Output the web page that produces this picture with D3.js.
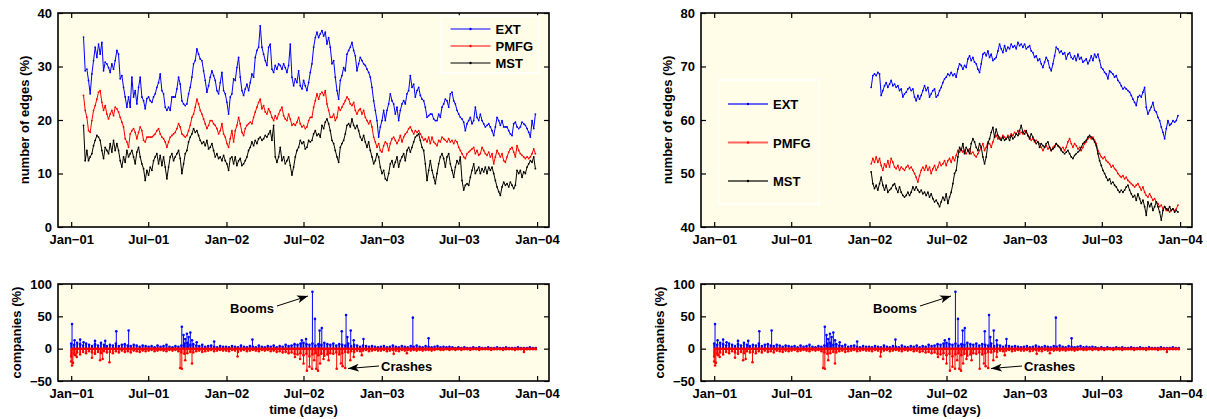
<!DOCTYPE html>
<html>
<head>
<meta charset="utf-8">
<script src="https://cdn.jsdelivr.net/npm/d3@7"></script>
<style>
  body { margin: 0; background: #ffffff; }
  text { font-family: "Liberation Sans", Arial, sans-serif; font-weight: bold; }
</style>
</head>
<body>
<script>
// ---- data ----
const tickDates = ["2001-01-01", "2001-07-01", "2002-01-01", "2002-07-01", "2003-01-01", "2003-07-01", "2004-01-01"];
const tickLabels = ["Jan\u221201", "Jul\u221201", "Jan\u221202", "Jul\u221202", "Jan\u221203", "Jul\u221203", "Jan\u221204"];
const seriesNames = ["EXT", "PMFG", "MST"];

// left top panel: samples evenly spread between these dates
const leftRange = ["2001-01-30", "2003-12-28"];
const extLeft = [35.5,29.2,29.5,27.4,24.9,28.6,31.1,33.6,31.7,34.2,
  32.3,34.5,29.2,30.8,30.5,29.8,28.9,30.5,29.5,31.1,
  33.0,32.3,27.7,28.3,26.1,24.3,22.4,24.3,22.4,28.0,
  24.3,25.5,23.0,26.1,28.0,24.3,23.6,22.1,24.0,24.3,
  23.6,23.3,24.3,24.9,26.1,27.0,28.6,25.5,24.9,22.4,
  21.8,22.4,21.8,24.3,24.3,24.3,25.8,28.0,26.7,23.6,
  23.0,22.7,23.0,24.9,26.1,28.0,30.5,31.1,33.3,32.3,
  31.4,31.1,29.2,27.4,25.2,26.4,28.0,29.2,28.3,27.4,
  25.5,24.9,27.0,28.9,25.5,24.9,23.3,21.1,24.3,24.9,
  27.7,27.4,29.8,31.7,28.0,25.5,24.6,25.8,26.7,25.5,
  27.0,28.6,28.0,31.7,33.0,33.6,37.6,33.6,32.3,31.1,
  30.2,33.6,34.2,29.5,28.9,30.2,29.5,30.5,30.2,29.5,
  30.5,29.8,28.9,30.2,34.2,28.0,26.4,27.7,27.0,29.2,
  26.4,25.8,27.4,26.4,25.5,27.0,28.9,
  30.5,33.6,35.4,36.4,35.4,36.1,36.7,35.7,36.4,34.2,
  35.4,33.6,30.5,31.1,28.0,25.5,23.9,27.4,28.3,29.8,
  29.2,32.3,33.0,33.6,34.5,33.0,32.0,29.2,30.5,31.7,
  31.1,30.5,30.2,29.5,28.9,28.0,26.1,23.6,21.8,19.9,
  16.8,18.7,19.9,21.8,19.9,21.8,23.0,24.9,23.6,23.0,
  21.1,22.4,19.9,21.8,23.0,23.6,23.0,24.9,25.5,28.3,
  26.1,26.7,24.3,25.5,26.1,24.6,23.9,23.6,22.4,20.5,
  20.8,21.1,21.1,20.2,19.9,19.9,21.1,20.5,22.4,23.0,
  23.9,23.6,22.4,24.9,25.2,23.6,23.0,21.8,21.1,20.5,
  20.2,19.6,18.0,19.3,19.9,20.5,19.3,19.9,22.4,20.5,
  19.9,21.1,19.9,19.3,18.7,19.0,19.3,18.7,18.0,17.1,
  18.7,20.5,19.9,19.0,19.9,18.7,18.7,18.7,18.0,17.4,
  17.1,19.3,19.6,18.7,18.4,18.7,19.6,19.3,19.0,18.4,
  17.7,16.8,19.9,18.4,21.1];
const pmfgLeft = [24.6,21.8,20.5,18.0,17.7,19.9,21.8,22.7,23.9,25.2,
  25.5,23.3,21.8,22.7,21.1,20.2,21.1,21.8,20.8,22.4,
  22.1,21.5,20.5,19.6,18.7,16.5,15.9,14.9,17.4,18.0,
  18.4,17.7,16.5,17.7,18.7,18.0,16.2,15.9,16.8,16.8,
  16.8,16.8,17.1,17.4,18.0,18.4,17.4,16.8,16.5,15.9,
  14.9,15.9,16.8,17.1,17.4,17.7,18.4,19.3,18.7,17.4,
  17.1,16.8,17.1,18.0,19.0,20.5,21.1,22.4,23.9,23.0,
  21.8,21.1,20.2,19.3,18.4,19.0,19.9,19.9,19.3,19.0,
  18.4,17.4,18.0,19.3,17.4,16.8,15.6,14.9,16.5,18.0,
  15.9,18.0,19.0,20.5,19.3,17.7,17.1,18.4,19.0,19.3,
  19.6,19.3,20.5,21.5,22.4,23.3,23.9,22.1,22.7,21.5,
  21.1,22.1,21.5,20.5,19.9,20.8,20.2,21.1,21.8,22.4,
  20.8,20.2,19.9,21.1,20.2,19.0,19.3,19.0,19.6,20.5,
  19.3,18.7,19.0,18.4,18.7,19.9,20.5,
  20.5,22.4,23.6,24.9,23.9,24.9,25.2,24.6,25.5,23.0,
  21.8,20.5,20.5,21.1,19.9,20.5,22.4,21.8,22.4,23.0,
  23.6,24.3,23.9,23.0,22.7,23.3,21.8,21.1,21.8,22.1,
  21.1,21.8,20.5,19.9,19.3,19.9,18.7,16.8,15.9,14.9,
  15.6,14.3,14.0,15.2,15.9,15.6,14.3,15.6,16.5,16.8,
  16.2,15.6,16.2,17.1,15.9,16.8,17.4,17.7,18.4,18.7,
  18.0,17.4,18.0,17.7,18.0,17.4,16.8,16.2,16.5,15.9,
  16.8,15.6,16.8,15.9,15.6,15.2,16.2,15.9,16.8,16.5,
  16.2,15.9,16.5,15.9,16.2,15.6,16.2,15.9,14.9,14.3,
  13.7,13.1,12.8,13.7,14.0,14.3,14.6,14.9,13.7,14.3,
  13.4,13.7,14.9,14.3,13.7,13.4,14.0,13.1,13.7,11.8,
  13.1,14.3,13.7,13.1,13.7,12.4,12.1,13.1,14.0,14.6,
  14.9,14.0,13.1,15.2,14.3,13.7,13.4,13.1,12.8,13.1,
  12.8,13.1,13.7,14.6,13.7];
const mstLeft = [19.0,12.4,14.3,12.4,13.1,13.7,15.2,16.2,17.1,16.8,
  16.2,14.3,12.8,14.9,14.3,13.7,15.6,14.0,16.2,14.3,
  15.6,14.3,12.4,11.2,13.1,12.1,14.3,13.1,13.7,14.3,
  13.1,11.8,14.0,14.9,13.1,11.8,10.9,8.7,10.6,9.7,
  11.2,10.6,12.4,13.1,13.7,11.8,13.4,11.5,13.1,11.2,
  9.0,11.2,13.1,13.7,12.4,13.1,13.7,14.3,12.8,10.0,
  11.8,13.7,14.3,15.9,16.8,17.4,18.4,17.7,18.0,17.1,
  16.2,15.6,15.9,15.2,16.2,14.6,14.9,15.6,14.3,13.1,
  13.7,12.8,13.1,12.4,13.4,12.4,11.8,10.6,12.8,13.1,
  11.8,13.1,11.5,12.4,12.8,11.5,11.8,12.4,13.1,14.3,
  14.9,15.9,15.2,16.2,15.6,16.5,16.8,16.2,16.5,17.1,
  16.8,17.4,18.0,16.2,19.0,13.1,12.1,13.1,14.9,12.4,
  13.1,11.8,12.4,13.1,11.5,9.7,11.2,13.1,14.3,14.9,
  16.2,15.6,15.9,14.6,14.9,16.2,15.9,
  16.2,17.4,18.0,17.1,17.4,16.8,19.0,18.4,19.6,20.2,
  19.3,18.0,16.2,15.6,14.3,13.1,12.1,14.9,15.6,16.2,
  17.4,19.0,19.3,18.7,20.2,19.0,18.4,19.0,18.0,16.8,
  16.2,17.1,15.9,14.9,15.9,14.3,13.1,11.8,12.4,13.7,
  13.1,11.2,10.0,10.6,9.0,8.7,10.0,11.8,12.4,11.2,
  12.1,13.1,11.2,12.4,13.1,13.7,12.4,14.3,14.9,14.0,
  14.9,15.9,16.8,17.1,17.4,16.2,14.9,14.3,11.8,8.7,
  10.6,12.4,10.6,9.3,8.1,10.0,11.8,13.1,13.7,12.8,
  11.2,13.1,13.7,11.8,10.6,9.3,11.2,12.4,11.8,13.1,
  8.7,6.9,7.8,8.1,7.8,9.3,10.6,11.8,10.0,10.6,
  11.2,10.0,10.9,10.3,11.2,10.0,11.2,10.6,11.2,10.0,
  8.7,7.5,6.6,5.9,7.5,8.4,7.8,8.1,7.5,8.4,
  7.8,7.2,7.8,10.6,10.0,10.6,9.3,10.3,10.0,11.2,
  11.8,12.4,12.1,13.1,10.9];

// right top panel
const rightRange = ["2002-01-05", "2003-12-27"];
const extRight = [66.1,68.3,68.6,68.3,68.9,68.6,64.6,65.5,66.4,67.0,
  66.1,66.7,67.4,66.4,66.7,66.1,66.4,65.5,65.8,64.3,
  64.9,65.2,65.8,66.1,65.5,65.8,64.3,63.6,64.6,63.9,
  64.6,65.5,66.4,65.5,66.1,64.3,64.9,65.5,65.8,64.3,
  64.6,65.5,66.1,67.0,67.7,68.0,68.6,68.3,68.9,68.3,
  68.6,68.0,69.5,70.5,70.2,69.5,70.2,69.8,71.4,72.0,
  71.1,71.7,70.8,70.5,69.5,68.9,70.5,72.3,72.6,72.0,
  72.9,71.7,72.3,71.1,71.4,71.7,72.9,74.2,73.3,72.6,
  73.9,72.9,73.6,73.3,74.2,73.6,73.9,73.3,74.5,73.9,
  74.2,73.6,74.2,73.3,73.6,73.9,72.9,72.6,71.7,72.0,
  71.1,71.4,70.5,69.8,70.8,71.7,71.1,69.8,69.2,70.5,
  72.0,73.6,73.3,72.6,72.9,72.3,72.6,71.4,72.3,72.6,
  71.7,71.4,72.0,71.1,72.3,71.4,71.7,70.8,71.1,71.4,
  70.5,71.1,72.0,71.1,72.3,71.7,72.3,71.1,69.8,69.5,
  68.9,68.6,67.7,69.2,68.9,68.6,68.0,68.3,67.4,67.0,
  66.4,65.8,66.1,65.8,65.5,65.2,64.6,63.9,63.3,62.7,
  64.3,64.6,64.3,65.2,66.1,62.4,61.1,61.8,62.4,63.3,
  61.8,61.5,60.5,59.9,58.7,57.7,56.5,58.4,59.9,59.0,
  59.3,59.9,59.6,59.9,60.8];
const pmfgRight = [51.8,52.8,52.1,53.1,52.1,52.8,51.5,50.6,51.8,51.2,
  52.4,51.2,52.8,52.1,51.2,50.9,51.5,50.6,51.2,50.9,
  50.6,51.2,51.5,50.9,51.2,50.6,50.0,49.3,48.4,49.6,
  50.6,51.2,50.6,51.5,50.6,51.2,50.0,50.9,51.5,50.6,
  51.2,52.1,51.5,51.8,52.4,51.5,52.4,52.8,52.1,53.1,
  52.4,53.4,54.3,54.0,54.6,54.0,54.3,53.7,54.3,54.6,
  53.7,54.0,53.4,53.1,53.7,54.3,54.9,55.6,54.3,54.9,
  55.9,55.6,54.9,55.9,56.8,57.1,56.5,56.8,56.5,57.1,
  56.8,56.5,57.1,56.8,57.4,57.1,57.7,57.4,58.0,57.4,
  57.7,57.4,58.0,57.7,57.1,56.8,56.2,56.5,55.9,56.2,
  55.9,55.6,54.9,54.3,54.9,55.2,54.6,54.9,54.3,54.9,
  55.2,55.6,55.2,54.9,54.6,54.9,54.3,54.9,55.9,56.5,
  55.6,54.9,55.6,55.2,54.6,54.9,54.3,54.9,55.6,55.9,
  56.5,56.8,56.5,56.8,56.2,55.6,54.3,53.7,53.1,52.8,
  53.1,52.4,52.1,51.8,51.2,51.5,50.9,50.6,50.0,49.6,
  49.3,49.6,49.0,49.3,48.7,48.4,48.1,47.8,47.5,47.8,
  48.1,47.5,46.9,47.5,46.5,45.9,45.6,46.2,45.6,45.0,
  45.3,44.7,44.4,43.8,44.1,43.4,43.8,43.1,43.4,42.8,
  43.1,43.4,43.1,43.4,44.1];
const mstRight = [50.3,48.1,47.2,47.8,46.9,48.1,49.3,47.8,46.9,47.8,
  46.5,46.9,47.2,47.8,48.1,47.2,46.5,47.5,46.5,45.9,
  45.6,45.9,46.5,45.9,46.5,47.5,46.9,47.5,46.9,46.5,
  46.9,46.2,46.5,45.9,46.5,45.6,46.2,45.3,44.7,45.0,
  44.4,43.8,44.7,45.6,45.0,46.2,44.4,45.6,46.5,48.1,
  50.0,50.6,53.1,54.9,54.3,55.6,53.7,54.9,54.3,53.7,
  55.6,56.5,55.9,54.9,54.3,55.6,54.9,53.1,51.8,53.1,
  55.6,56.5,57.7,58.6,56.8,58.3,57.1,56.5,56.2,56.8,
  56.2,56.5,56.8,56.2,57.1,56.5,56.8,57.4,57.1,58.0,
  59.0,57.7,57.4,58.0,57.1,56.5,57.4,56.8,56.2,55.6,
  55.9,54.9,55.6,55.2,54.9,55.6,55.9,54.9,54.3,54.6,
  54.9,55.6,55.2,54.9,54.3,54.0,53.7,54.0,54.3,53.7,
  53.1,52.8,53.4,53.7,54.0,54.3,54.9,55.6,55.9,56.2,
  56.8,57.1,56.8,56.5,55.9,55.2,53.7,52.4,51.5,50.6,
  50.0,49.3,48.7,49.0,48.1,48.4,47.8,47.5,46.9,46.5,
  46.9,46.5,46.9,47.5,47.8,46.9,46.2,45.6,45.9,45.0,
  46.2,45.3,44.4,45.0,43.8,42.2,44.7,43.8,44.4,43.1,
  43.8,44.7,43.8,42.8,41.3,43.1,43.8,43.4,43.1,43.8,
  43.1,43.4,42.8,43.1,42.8];

// bottom panels: weekly level of booms / crashes from 2001-01-01, plus the big spikes
const baseStart = "2001-01-01";
const boomWeekly = [8,6,9,7,5,8,6,4,7,5,9,6,4, 6,5,8,4,6,7,5,4,6,5,3,5,4,
  3,4,2,5,3,4,6,3,2,4,3,5,8, 9,6,7,5,4,6,3,4,5,3,2,4,3,
  3,2,4,3,2,5,3,2,4,3,2,5,3, 2,4,3,5,2,4,3,6,4,5,7,6,8,
  9,7,6,8,5,7,6,9,7,6,8,5,7, 6,5,8,4,6,5,3,5,4,3,4,3,2,
  3,4,2,3,5,3,2,4,3,2,4,3,5, 3,2,4,3,2,3,4,2,3,2,3,2,1,
  2,1,2,1,1,2,1,2,1,1,2,1,1, 2,1,1,2,1,1,1,2,1,1,1,2,1,1];
const crashWeekly = [-12,-8,-6,-9,-5,-7,-4,-6,-8,-5,-7,-4,-6, -5,-7,-4,-6,-3,-5,-4,-6,-3,-4,-5,-3,-4,
  -3,-2,-4,-3,-2,-3,-4,-2,-3,-2,-4,-6,-8, -7,-5,-6,-4,-3,-5,-4,-3,-2,-4,-3,-2,-3,
  -3,-4,-2,-3,-5,-3,-2,-4,-3,-2,-3,-4,-2, -3,-2,-4,-3,-5,-4,-6,-5,-7,-6,-8,-9,-7,
  -10,-8,-12,-9,-7,-10,-8,-11,-9,-7,-8,-6,-9, -7,-5,-6,-4,-5,-3,-4,-3,-2,-4,-3,-2,-3,
  -3,-2,-4,-3,-2,-3,-4,-2,-3,-2,-3,-2,-3, -2,-3,-2,-2,-3,-2,-1,-2,-2,-1,-2,-1,-2,
  -1,-2,-1,-1,-2,-1,-1,-2,-1,-1,-1,-2,-1, -1,-1,-2,-1,-1,-1,-2,-1,-1,-5,-1,-1,-1,-1];
const boomDays = [2,8,21,29,56,80,106,135,260,264,268,272,276,280,284,295,336,426,542,552,567,573,584,589,636,646,649,657,664,687,803,840];
const boomValues = [38,13,14,10,12,12,27,28,34,21,15,23,18,25,13,10,11,14,13,15,88,46,28,32,27,52,18,28,13,15,48,16];
const crashDays = [0,2,4,9,13,49,68,74,90,256,260,268,284,391,526,538,546,554,560,566,571,576,580,585,593,605,624,634,638,644,656,664,683,758,789];
const crashValues = [-20,-26,-22,-10,-13,-14,-18,-16,-21,-30,-31,-18,-23,-12,-13,-16,-23,-34,-28,-31,-18,-31,-34,-23,-16,-18,-31,-23,-27,-30,-18,-13,-10,-8,-7];

// ---- layout ----
const bg = "#fffde8";
const blue = "#0000ff", red = "#ff0000";
const colors = [blue, red, "#000000"];
const parse = d3.timeParse("%Y-%m-%d");
const xDomain = [parse("2000-12-01"), parse("2004-01-29")];
const ticks = tickDates.map(parse);

const svg = d3.select("body").append("svg")
  .attr("width", 1207)
  .attr("height", 419);

function makePanel(left, top, width, height, yDomain, yTicks, yLabel, labelGap) {
  const x = d3.scaleTime().domain(xDomain).range([left, left + width]);
  const y = d3.scaleLinear().domain(yDomain).range([top + height, top]);
  const g = svg.append("g");
  g.append("rect")
    .attr("x", left).attr("y", top)
    .attr("width", width).attr("height", height)
    .attr("fill", bg);
  const inner = g.append("g");

  // axes with inward ticks
  const fmt = d => tickLabels[ticks.findIndex(t => +t === +d)];
  g.append("g")
    .attr("transform", `translate(0,${top + height})`)
    .call(d3.axisBottom(x).tickValues(ticks).tickFormat(fmt).tickSize(-5).tickPadding(8))
    .call(a => a.select(".domain").remove())
    .attr("font-size", "13px").attr("font-family", null);
  g.append("g")
    .attr("transform", `translate(0,${top})`)
    .call(d3.axisTop(x).tickValues(ticks).tickFormat("").tickSize(-5))
    .call(a => a.select(".domain").remove());
  g.append("g")
    .attr("transform", `translate(${left},0)`)
    .call(d3.axisLeft(y).tickValues(yTicks).tickFormat(d => d < 0 ? "\u2212" + (-d) : d).tickSize(-5).tickPadding(6))
    .call(a => a.select(".domain").remove())
    .attr("font-size", "13px").attr("font-family", null);
  g.append("g")
    .attr("transform", `translate(${left + width},0)`)
    .call(d3.axisRight(y).tickValues(yTicks).tickFormat("").tickSize(-5))
    .call(a => a.select(".domain").remove());
  g.selectAll(".tick line").attr("stroke", "#000").attr("stroke-width", 1.2);
  g.selectAll(".tick text").attr("fill", "#000");

  g.append("rect")
    .attr("x", left).attr("y", top)
    .attr("width", width).attr("height", height)
    .attr("fill", "none").attr("stroke", "#000").attr("stroke-width", 1.6);

  g.append("text")
    .attr("transform", `translate(${left - labelGap},${top + height / 2}) rotate(-90)`)
    .attr("text-anchor", "middle")
    .attr("font-size", "13px")
    .text(yLabel);
  return { g: inner, x, y };
}

function drawSeries(p, range, list) {
  const d0 = parse(range[0]), d1 = parse(range[1]);
  list.forEach((vals, k) => {
    const t = d3.scaleLinear().domain([0, vals.length - 1]).range([+d0, +d1]);
    const pts = vals.map((v, i) => ({ date: new Date(t(i)), v }));
    p.g.append("path")
      .datum(pts)
      .attr("fill", "none")
      .attr("stroke", colors[k])
      .attr("stroke-width", 1)
      .attr("d", d3.line().x(d => p.x(d.date)).y(d => p.y(d.v)));
    p.g.selectAll(null)
      .data(pts)
      .enter()
      .append("circle")
      .attr("cx", d => p.x(d.date))
      .attr("cy", d => p.y(d.v))
      .attr("r", 0.9)
      .attr("fill", colors[k]);
  });
}

function drawStems(p) {
  const start = parse(baseStart);
  const weekly = arr => arr.map((v, i) => ({ date: d3.timeDay.offset(start, i * 7), v, w: 1.8 }));
  const spikes = (days, vals) => days.map((d, i) => ({ date: d3.timeDay.offset(start, d), v: vals[i], w: 1 }));
  const booms = weekly(boomWeekly).concat(spikes(boomDays, boomValues));
  const crashes = weekly(crashWeekly).concat(spikes(crashDays, crashValues));
  [[booms, blue], [crashes, red]].forEach(([data, c]) => {
    p.g.selectAll(null).data(data).enter().append("line")
      .attr("x1", d => p.x(d.date)).attr("x2", d => p.x(d.date))
      .attr("y1", p.y(0)).attr("y2", d => p.y(d.v))
      .attr("stroke", c).attr("stroke-width", d => d.w);
    p.g.selectAll(null).data(data).enter().append("circle")
      .attr("cx", d => p.x(d.date)).attr("cy", d => p.y(d.v))
      .attr("r", 1.3).attr("fill", c);
  });
  p.g.append("line")
    .attr("x1", p.x(start)).attr("x2", p.x(parse("2003-12-31")))
    .attr("y1", p.y(0)).attr("y2", p.y(0))
    .attr("stroke", red).attr("stroke-width", 2.5);
}

function drawLegend(p, box, rows, lineW, lineOpacity) {
  const g = svg.append("g");
  g.append("rect")
    .attr("x", box[0]).attr("y", box[1]).attr("width", box[2]).attr("height", box[3])
    .attr("fill", bg).attr("stroke", "#ffffff").attr("stroke-width", 1.5);
  seriesNames.forEach((name, i) => {
    const yy = rows[i];
    g.append("line")
      .attr("x1", box[0] + 9).attr("x2", box[0] + 49)
      .attr("y1", yy).attr("y2", yy)
      .attr("stroke", colors[i]).attr("stroke-width", lineW).attr("stroke-opacity", lineOpacity);
    g.append("circle").attr("cx", box[0] + 29).attr("cy", yy).attr("r", 1.2).attr("fill", colors[i]);
    g.append("text")
      .attr("x", box[0] + 54).attr("y", yy + 5)
      .attr("font-size", "13px")
      .text(name);
  });
}

svg.append("defs").append("marker")
  .attr("id", "head")
  .attr("markerUnits", "userSpaceOnUse")
  .attr("markerWidth", 12).attr("markerHeight", 8)
  .attr("refX", 11).attr("refY", 4)
  .attr("orient", "auto")
  .append("path")
  .attr("d", "M0,0 L11,4 L0,8 L3,4 Z")
  .attr("fill", "#000");

function annotate(left) {
  const g = svg.append("g");
  g.append("text").attr("x", left + 172).attr("y", 313).attr("font-size", "13px").text("Booms");
  g.append("line").attr("x1", left + 219).attr("y1", 306).attr("x2", left + 250).attr("y2", 296)
    .attr("stroke", "#000").attr("stroke-width", 1).attr("marker-end", "url(#head)");
  g.append("text").attr("x", left + 323).attr("y", 371).attr("font-size", "13px").text("Crashes");
  g.append("line").attr("x1", left + 321).attr("y1", 366).attr("x2", left + 290).attr("y2", 368.5)
    .attr("stroke", "#000").attr("stroke-width", 1).attr("marker-end", "url(#head)");
  g.append("text").attr("x", left + 245.5).attr("y", 414).attr("text-anchor", "middle")
    .attr("font-size", "13px").text("time (days)");
}

// ---- panels ----
const topLeft = makePanel(58, 13, 491, 214, [0, 40], [0, 10, 20, 30, 40], "number of edges (%)", 29);
drawSeries(topLeft, leftRange, [extLeft, pmfgLeft, mstLeft]);
drawLegend(topLeft, [441.5, 16, 97, 57], [29, 46, 63], 1, 1);

const topRight = makePanel(701, 13, 491, 214, [40, 80], [40, 50, 60, 70, 80], "number of edges (%)", 29);
drawSeries(topRight, rightRange, [extRight, pmfgRight, mstRight]);
drawLegend(topRight, [719, 80, 100, 124], [104, 142.5, 181], 2, 0.6);

[58, 701].forEach(left => {
  const p = makePanel(left, 284, 491, 97, [-50, 100], [-50, 0, 50, 100], "companies (%)", 37.5);
  drawStems(p);
  annotate(left);
});
</script>
</body>
</html>
